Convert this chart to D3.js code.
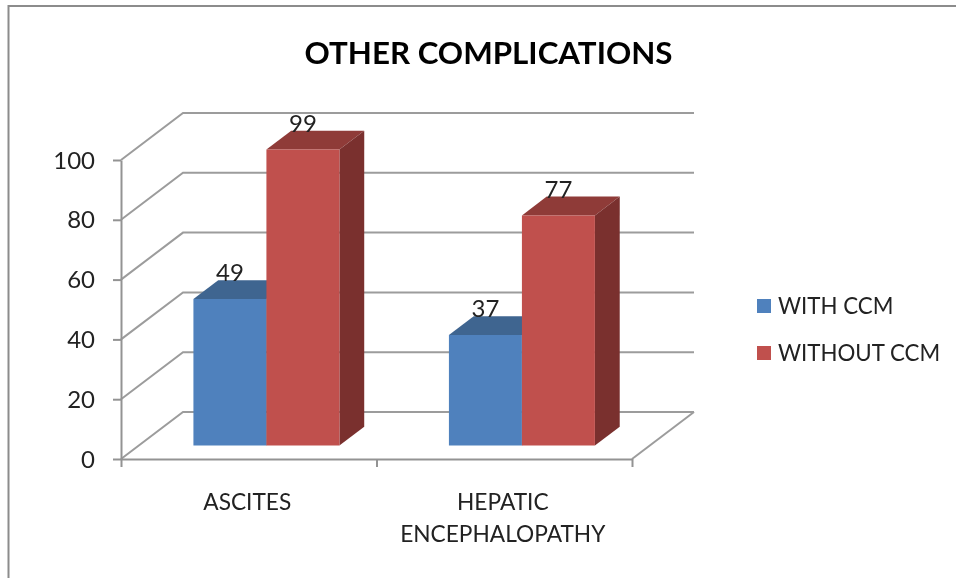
<!DOCTYPE html>
<html>
<head>
<meta charset="utf-8">
<script src="https://cdn.jsdelivr.net/npm/d3@7"></script>
<style>
html, body { margin: 0; background: #fff; }
svg { display: block; filter: blur(0.45px); }
text { font-family: Lato, "Open Sans", sans-serif; fill: #222; }
.axis path, .axis line { stroke: #939393; stroke-width: 2; }
</style>
</head>
<body>
<script>
let w = 956;
let h = 578;

let title = "OTHER COMPLICATIONS";
let categories = ["ASCITES", "HEPATIC ENCEPHALOPATHY"];
let seriesNames = ["WITH CCM", "WITHOUT CCM"];
let withCcm = [49, 37];
let withoutCcm = [99, 77];
let yTicks = [0, 20, 40, 60, 80, 100];

let colors = ["#4f81bd", "#c0504d"];
let topColors = ["#3f6590", "#8f3b38"];
let sideColors = ["#335478", "#7a302e"];

//Front plane of the box
let xLeft = 121, xRight = 632;
let yBase = 459, yTop = 160;
//How far the back wall is shifted
let depthX = 62, depthY = -47;
//Where the bars sit in the depth of the box (0 front, 1 back)
let barZ0 = 0.285, barZ1 = 0.685;

let xScale = d3.scaleBand().domain(categories).range([xLeft, xRight]);
let xSeries = d3.scaleBand()
    .domain(seriesNames)
    .range([0, xScale.bandwidth()])
    .paddingInner(0)
    .paddingOuter(0.75);
let yScale = d3.scaleLinear().domain([0, 100]).range([yBase, yTop]);

//Takes pixel x and a value, gives the point at depth z
function project(x, v, z) {
    return [x + depthX * z, yScale(v) + depthY * z];
}
let poly = d3.line();

let svg = d3.select("body")
    .append("svg")
    .attr("width", w)
    .attr("height", h);

//Outer chart frame
svg.append("path")
    .attr("d", poly([[8.5, h], [8.5, 6], [w, 6]]))
    .attr("fill", "none")
    .attr("stroke", "#8c8c8c")
    .attr("stroke-width", 2);

svg.append("text")
    .attr("x", 488.5)
    .attr("y", 64)
    .attr("text-anchor", "middle")
    .style("font-size", "31.3px")
    .style("font-weight", 700)
    .style("fill", "#000")
    .text(title);

//Gridlines along the left wall and back wall
let grid = svg.append("g")
    .attr("fill", "none")
    .attr("stroke", "#9c9c9c")
    .attr("stroke-width", 2);

yTicks.forEach(function(t) {
    grid.append("path")
        .attr("d", poly([
            project(xLeft, t, 0),
            project(xLeft, t, 1),
            project(xRight, t, 1)
        ]));
});

//Floor edge on the right
grid.append("path")
    .attr("d", poly([project(xRight, 0, 1), project(xRight, 0, 0)]));

//Axes
let yAxis = d3.axisLeft(yScale)
    .tickValues(yTicks)
    .tickSize(8)
    .tickSizeOuter(0);

svg.append("g")
    .attr("class", "axis")
    .attr("transform", "translate(" + xLeft + ",0)")
    .call(yAxis)
    .selectAll("text")
    .attr("x", -26)
    .attr("dy", "0.34em")
    .style("font-size", "24px");

let xEdges = d3.scaleLinear().domain([0, 2]).range([xLeft, xRight]);
let xAxis = d3.axisBottom(xEdges)
    .tickValues([0, 1, 2])
    .tickFormat("")
    .tickSize(8)
    .tickSizeOuter(0);

svg.append("g")
    .attr("class", "axis")
    .attr("transform", "translate(0," + yBase + ")")
    .call(xAxis);

//Category labels, the long one wraps on two lines
svg.selectAll(".cat")
    .data(categories)
    .enter()
    .append("text")
    .attr("class", "cat")
    .attr("text-anchor", "middle")
    .attr("transform", function(d) {
        return "translate(" + (xScale(d) + xScale.bandwidth() / 2 - 1.5) + ",510)";
    })
    .style("font-size", "22.7px")
    .selectAll("tspan")
    .data(function(d) { return d.split(" "); })
    .enter()
    .append("tspan")
    .attr("x", 0)
    .attr("y", function(d, i) { return i * 32; })
    .text(function(d) { return d; });

//Bars, back to front and left to right so the red hides the blue side
let values = [withCcm, withoutCcm];

categories.forEach(function(cat, c) {
    seriesNames.forEach(function(name, s) {
        let v = values[s][c];
        let x0 = xScale(cat) + xSeries(name);
        let x1 = x0 + xSeries.bandwidth();
        let g = svg.append("g").attr("class", "bar");

        //top face
        g.append("path")
            .attr("d", poly([
                project(x0, v, barZ0),
                project(x1, v, barZ0),
                project(x1, v, barZ1),
                project(x0, v, barZ1)
            ]) + "Z")
            .attr("fill", topColors[s]);

        //side face
        g.append("path")
            .attr("d", poly([
                project(x1, 0, barZ0),
                project(x1, 0, barZ1),
                project(x1, v, barZ1),
                project(x1, v, barZ0)
            ]) + "Z")
            .attr("fill", sideColors[s]);

        //front face
        g.append("path")
            .attr("d", poly([
                project(x0, 0, barZ0),
                project(x1, 0, barZ0),
                project(x1, v, barZ0),
                project(x0, v, barZ0)
            ]) + "Z")
            .attr("fill", colors[s]);
    });
});

//Value labels go on top of all the bars, centred over the front face
categories.forEach(function(cat, c) {
    seriesNames.forEach(function(name, s) {
        let v = values[s][c];
        let x = xScale(cat) + xSeries(name) + xSeries.bandwidth() / 2;
        svg.append("text")
            .attr("x", project(x, v, barZ0)[0])
            .attr("y", project(x, v, barZ1)[1] + 1)
            .attr("text-anchor", "middle")
            .style("font-size", "24px")
            .text(v);
    });
});

//Legend
let legendY = d3.scalePoint().domain(seriesNames).range([306, 353]);

let legend = svg.selectAll(".legend")
    .data(seriesNames)
    .enter()
    .append("g")
    .attr("class", "legend")
    .attr("transform", function(d) {
        return "translate(757," + legendY(d) + ")";
    });

legend.append("rect")
    .attr("y", -7)
    .attr("width", 14)
    .attr("height", 14)
    .attr("fill", function(d, i) { return colors[i]; });

legend.append("text")
    .attr("x", 21)
    .attr("dy", "0.36em")
    .style("font-size", "22.3px")
    .text(function(d) { return d; });
</script>
</body>
</html>
